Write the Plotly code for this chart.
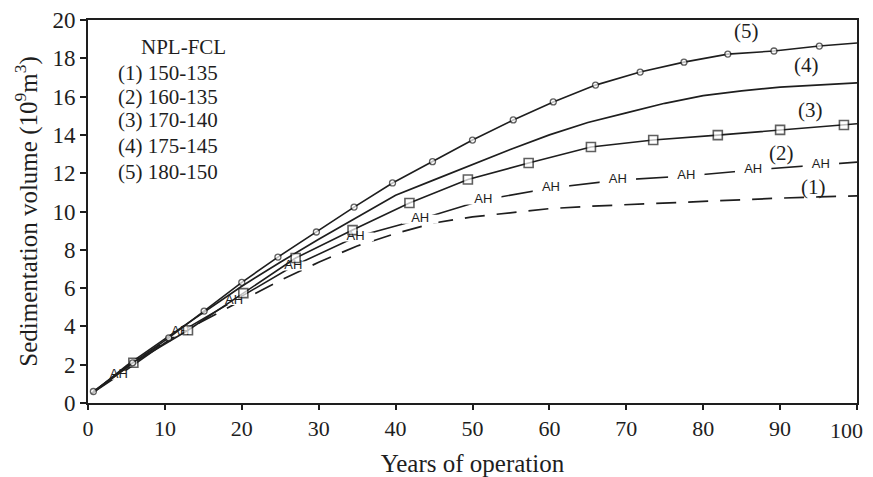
import plotly.graph_objects as go

# ---------------- data ----------------
years1 = [0.5, 5, 10, 15, 20, 25, 30, 35, 40, 45, 50, 55, 60, 65, 70, 75, 80, 85, 90, 95, 100]
vol1 = [0.5, 1.9, 3.2, 4.3, 5.35, 6.4, 7.35, 8.2, 8.85, 9.4, 9.72, 9.95, 10.15, 10.27, 10.36, 10.45,
        10.55, 10.63, 10.7, 10.76, 10.82]

years2 = [0.5, 4, 12, 19, 26.7, 34.8, 43.2, 51.4, 60.2, 68.9, 77.8, 86.5, 95.3, 100]
vol2 = [0.5, 1.45, 3.7, 5.35, 7.15, 8.67, 9.6, 10.6, 11.23, 11.64, 11.85, 12.17, 12.43, 12.58]
marks2 = [False, True, True, True, True, True, True, True, True, True, True, True, True, False]

years3 = [0.5, 5.9, 13, 20.2, 27, 34.4, 41.8, 49.4, 57.3, 65.4, 73.5, 81.9, 90, 98.3, 100]
vol3 = [0.5, 2.1, 3.8, 5.74, 7.57, 9.03, 10.44, 11.67, 12.53, 13.37, 13.73, 13.99, 14.26, 14.52, 14.58]
marks3 = [False] + [True] * 13 + [False]

years4 = [0.5, 5, 10, 15, 20, 25, 30, 35, 40, 45, 50, 55, 60, 65, 70, 75, 80, 85, 90, 95, 100]
vol4 = [0.5, 1.95, 3.35, 4.72, 6.1, 7.35, 8.55, 9.7, 10.85, 11.65, 12.45, 13.25, 14.0, 14.65, 15.15,
        15.65, 16.05, 16.3, 16.5, 16.62, 16.72]

years5 = [0.7, 5.8, 10.5, 15.1, 20, 24.7, 29.7, 34.6, 39.6, 44.8, 50, 55.3, 60.5, 66, 71.8, 77.5,
          83.2, 89.2, 95.1, 100]
vol5 = [0.6, 2.1, 3.4, 4.8, 6.3, 7.62, 8.93, 10.23, 11.49, 12.6, 13.73, 14.78, 15.72, 16.6, 17.28,
        17.8, 18.22, 18.38, 18.64, 18.8]
marks5 = [True] * 19 + [False]

curve_labels = ["(5)", "(4)", "(3)", "(2)", "(1)"]
curve_label_x = [85.6, 93.4, 94.0, 90.2, 94.3]
curve_label_y = [19.4, 17.65, 15.3, 13.05, 11.3]

legend_title = "NPL-FCL"
legend_lines = ["(1) 150-135", "(2) 160-135", "(3) 170-140", "(4) 175-145", "(5) 180-150"]

x_ticks = [0, 10, 20, 30, 40, 50, 60, 70, 80, 90, 100]
x_tick_text = ["0", "10", "20", "30", "40", "50", "60", "70", "80", "90", ""]
x_last_label = "100"
y_ticks = [0, 2, 4, 6, 8, 10, 12, 14, 16, 18, 20]

# ---------------- style ----------------
INK = "#1e1e1e"
FONT = "Liberation Serif"

fig = go.Figure()

# curve 1: dashed
fig.add_trace(go.Scatter(x=years1, y=vol1, mode="lines",
                         line=dict(color=INK, width=1.7, dash="20px,12px"), hoverinfo="skip"))

# curve 2: line with "AH" markers
fig.add_trace(go.Scatter(x=years2, y=vol2, mode="lines",
                         line=dict(color=INK, width=1.6), hoverinfo="skip"))
mx2 = [x for x, m in zip(years2, marks2) if m]
my2 = [y for y, m in zip(vol2, marks2) if m]
fig.add_trace(go.Scatter(x=mx2, y=my2, mode="markers",
                         marker=dict(symbol="line-ew", size=26, color="white",
                                     line=dict(color="white", width=9)),
                         hoverinfo="skip"))
fig.add_trace(go.Scatter(x=mx2, y=my2, mode="text", text=["AH"] * len(mx2),
                         textfont=dict(family="Liberation Sans Narrow, Liberation Sans", size=13,
                                       color=INK),
                         textposition="middle center", hoverinfo="skip"))

# curve 4: plain solid
fig.add_trace(go.Scatter(x=years4, y=vol4, mode="lines",
                         line=dict(color=INK, width=1.7), hoverinfo="skip"))

# curve 3: open squares
fig.add_trace(go.Scatter(x=years3, y=vol3, mode="lines+markers",
                         line=dict(color=INK, width=1.6),
                         marker=dict(symbol="square", size=[9 if m else 0 for m in marks3],
                                     color="white", line=dict(color=INK, width=1.6)),
                         hoverinfo="skip"))

# curve 5: small open circles
fig.add_trace(go.Scatter(x=years5, y=vol5, mode="lines+markers",
                         line=dict(color=INK, width=1.6),
                         marker=dict(symbol="circle", size=[6 if m else 0 for m in marks5],
                                     color="white", line=dict(color=INK, width=1.3)),
                         hoverinfo="skip"))

annotations = []
for t, x, y in zip(curve_labels, curve_label_x, curve_label_y):
    annotations.append(dict(x=x, y=y, xref="x", yref="y", text=t, showarrow=False,
                            font=dict(family=FONT, size=21, color=INK)))

annotations.append(dict(x=0.124, y=0.9295, xref="paper", yref="paper", text=legend_title,
                        showarrow=False, xanchor="center", yanchor="middle",
                        font=dict(family=FONT, size=21, color=INK)))
leg_y = [0.8616, 0.799, 0.739, 0.671, 0.603]
for t, y in zip(legend_lines, leg_y):
    annotations.append(dict(x=0.037, y=y, xref="paper", yref="paper", text=t, showarrow=False,
                            xanchor="left", yanchor="middle",
                            font=dict(family=FONT, size=21, color=INK)))

# last x tick label, kept inside the page edge
annotations.append(dict(x=1, y=0, xref="paper", yref="paper", text=x_last_label, showarrow=False,
                        xanchor="right", yanchor="middle", xshift=8, yshift=-27,
                        font=dict(family=FONT, size=22, color=INK)))

fig.update_layout(
    width=865, height=469,
    margin=dict(l=80, r=16, t=12, b=74),
    paper_bgcolor="white", plot_bgcolor="white",
    showlegend=False,
    font=dict(family=FONT, color=INK, size=20),
    annotations=annotations,
    xaxis=dict(range=[0, 100], tickvals=x_ticks, ticktext=x_tick_text, ticks="outside",
               ticklen=5, tickwidth=1.5,
               tickcolor=INK, showline=True, linecolor=INK, linewidth=2, mirror=True,
               showgrid=False, zeroline=False, automargin=False,
               tickfont=dict(family=FONT, size=22, color=INK),
               title=dict(text="Years of operation", font=dict(family=FONT, size=25, color=INK),
                          standoff=15)),
    yaxis=dict(range=[0, 20], tickvals=y_ticks, ticks="outside", ticklen=6, tickwidth=1.5,
               tickcolor=INK, showline=True, linecolor=INK, linewidth=2, mirror=True,
               showgrid=False, zeroline=False, automargin=False,
               tickfont=dict(family=FONT, size=23, color=INK),
               title=dict(text="Sedimentation volume (10<sup>9</sup>m<sup>3</sup>)",
                          font=dict(family=FONT, size=25, color=INK), standoff=8)),
)

fig.write_html("out.html")
